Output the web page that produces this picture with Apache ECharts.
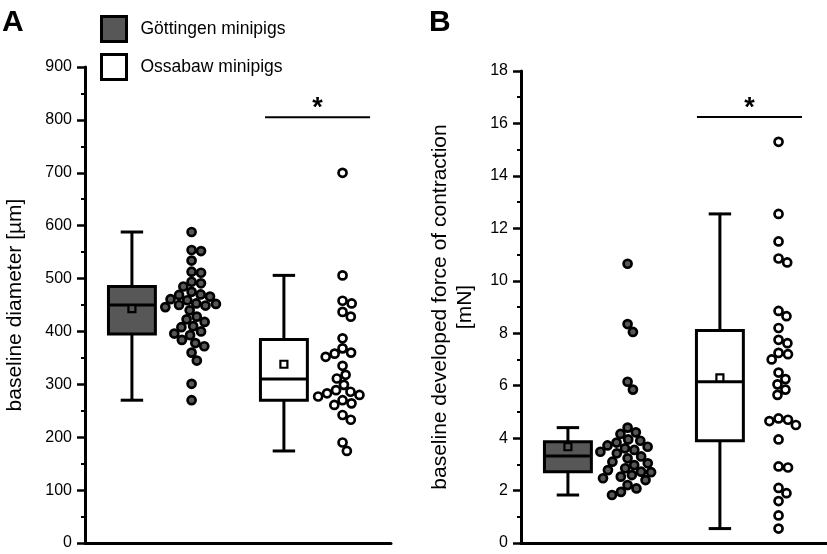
<!DOCTYPE html>
<html>
<head>
<meta charset="utf-8">
<script src="https://cdn.jsdelivr.net/npm/echarts@6/dist/echarts.min.js"></script>
<style>html,body{margin:0;padding:0;background:#fff}#c{width:827px;height:554px}</style>
</head>
<body>
<div id="c"></div>
<script>
// ---------- data ----------
const groups = ['Göttingen minipigs', 'Ossabaw minipigs'];
// Panel A: baseline diameter [µm]
const diamGottingen = [588, 554, 552, 534, 513, 511, 494, 491, 485, 475, 470, 469, 466, 461, 459, 453, 452, 450, 449, 446, 440, 428, 423, 418, 410, 408, 400, 396, 393, 384, 378, 372, 360, 345, 301, 270];
const diamOssabaw = [700, 506, 458, 453, 437, 428, 387, 368, 360, 358, 352, 335, 318, 311, 299, 289, 286, 283, 280, 277, 270, 264, 261, 242, 233, 190, 174];
// box stats: [lower whisker, Q1, median, Q3, upper whisker]
const diamBoxGottingen = [270, 395, 450, 485, 588];
const diamBoxOssabaw = [174, 270, 310, 385, 506];
const diamMeans = [443, 338];
// Panel B: baseline developed force of contraction [mN]
const forceGottingen = [10.65, 8.35, 8.05, 6.15, 5.85, 4.4, 4.22, 4.16, 3.95, 3.9, 3.83, 3.72, 3.67, 3.61, 3.55, 3.48, 3.42, 3.3, 3.23, 3.1, 3.04, 2.97, 2.85, 2.78, 2.72, 2.7, 2.59, 2.53, 2.47, 2.4, 2.21, 2.08, 1.95, 1.83];
const forceOssabaw = [15.3, 12.55, 11.5, 10.85, 10.7, 8.85, 8.65, 8.2, 7.75, 7.62, 7.25, 7.2, 7.0, 6.5, 6.25, 6.05, 5.85, 5.65, 4.75, 4.7, 4.65, 4.5, 3.95, 2.92, 2.88, 2.1, 1.9, 1.6, 1.05, 0.55];
const forceBoxGottingen = [1.83, 2.72, 3.32, 3.86, 4.4];
const forceBoxOssabaw = [0.55, 3.9, 6.15, 8.1, 12.55];
const forceMeans = [3.67, 6.3];
// significance bar levels
const sigLevels = [805, 16.25];
// axis ticks
const diamTicks = [0, 100, 200, 300, 400, 500, 600, 700, 800, 900];
const forceTicks = [0, 2, 4, 6, 8, 10, 12, 14, 16, 18];

// ---------- layout ----------
const FONT = "'Liberation Sans', Arial, Helvetica, sans-serif";
const DARK = '#575757';
const grids = [
  {left: 85, top: 67, width: 306, height: 476},
  {left: 521, top: 71, width: 306, height: 472}
];
const XMAX = 6;
const pos = {boxG: 0.92, ptsG: 2.09, boxO: 3.9, ptsO: 5.05};
const sigX = [[3.53, 5.59], [3.45, 5.51]];

// beeswarm offsets (pixel space) computed from data values
function swarm(vals, pxPerVal, d) {
  const placed = [];
  return vals.map(v => {
    const y = v * pxPerVal;
    const cands = [0];
    placed.forEach(p => {
      const dy = Math.abs(p.y - y);
      if (dy < d) { const dx = Math.sqrt(d * d - dy * dy); cands.push(p.x + dx, p.x - dx); }
    });
    cands.sort((a, b) => Math.abs(a) - Math.abs(b));
    const x = cands.find(c => placed.every(p => (p.x - c) ** 2 + (p.y - y) ** 2 >= d * d - 1e-6));
    placed.push({x, y});
    return x;
  });
}
function swarmData(vals, center, gi, ymax) {
  const pxY = grids[gi].height / ymax;
  const pxX = grids[gi].width / XMAX;
  const offs = swarm(vals, pxY, 9.5);
  return vals.map((v, i) => [center + offs[i] / pxX, v]);
}

function boxSeries(gi, x, stats, mean, fill) {
  return {
    type: 'custom', xAxisIndex: gi, yAxisIndex: gi, silent: true, z: 2,
    data: [[x].concat(stats).concat([mean])],
    renderItem: (params, api) => {
      const cx = api.value(0);
      const v = [1, 2, 3, 4, 5, 6].map(i => api.value(i));
      const hw = api.size([0.46, 0])[0];
      const cw = api.size([0.22, 0])[0];
      const p = val => api.coord([cx, val]);
      const pMin = p(v[0]), pQ1 = p(v[1]), pMed = p(v[2]), pQ3 = p(v[3]), pMax = p(v[4]), pMean = p(v[5]);
      const X = pMin[0];
      const st = {stroke: '#000', lineWidth: 3, fill: null};
      return {
        type: 'group', children: [
          {type: 'line', shape: {x1: X, y1: pMax[1], x2: X, y2: pQ3[1]}, style: st},
          {type: 'line', shape: {x1: X, y1: pQ1[1], x2: X, y2: pMin[1]}, style: st},
          {type: 'line', shape: {x1: X - cw, y1: pMax[1], x2: X + cw, y2: pMax[1]}, style: st},
          {type: 'line', shape: {x1: X - cw, y1: pMin[1], x2: X + cw, y2: pMin[1]}, style: st},
          {type: 'rect', shape: {x: X - hw, y: pQ3[1], width: 2 * hw, height: pQ1[1] - pQ3[1]}, style: {fill: fill, stroke: '#000', lineWidth: 3}},
          {type: 'line', shape: {x1: X - hw, y1: pMed[1], x2: X + hw, y2: pMed[1]}, style: st},
          {type: 'rect', shape: {x: X - 3.5, y: pMean[1] - 3.5, width: 7, height: 7}, style: {fill: fill, stroke: '#000', lineWidth: 2.2}}
        ]
      };
    }
  };
}
function sigSeries(gi) {
  return {
    type: 'custom', xAxisIndex: gi, yAxisIndex: gi, silent: true,
    data: [[sigX[gi][0], sigX[gi][1], sigLevels[gi]]],
    renderItem: (params, api) => {
      const a = api.coord([api.value(0), api.value(2)]);
      const b = api.coord([api.value(1), api.value(2)]);
      return {type: 'group', children: [
        {type: 'line', shape: {x1: a[0], y1: a[1], x2: b[0], y2: b[1]}, style: {stroke: '#000', lineWidth: 2}},
        {type: 'text', x: (a[0] + b[0]) / 2, y: a[1] + 5, style: {text: '*', fill: '#000', font: 'bold 27px ' + FONT, align: 'center', verticalAlign: 'bottom'}}
      ]};
    }
  };
}
function scatter(gi, name, data, fill) {
  return {
    type: 'scatter', name: name, xAxisIndex: gi, yAxisIndex: gi, z: 3,
    data: data, symbol: 'circle', symbolSize: 8,
    itemStyle: {color: fill, borderColor: '#000', borderWidth: 2.7, opacity: 1},
    emphasis: {disabled: true}
  };
}

function yAxis(gi, ticks, name, nameGap) {
  const step = ticks[1] - ticks[0];
  return {
    type: 'value', gridIndex: gi, min: ticks[0], max: ticks[ticks.length - 1], interval: step,
    name: name, nameLocation: 'middle', nameGap: nameGap,
    nameTextStyle: {fontFamily: FONT, fontSize: 21, color: '#000', lineHeight: 25},
    axisLine: {show: true, lineStyle: {color: '#000', width: 3}},
    axisTick: {show: true, inside: false, length: 8, lineStyle: {color: '#000', width: 2.5}},
    minorTick: {show: true, splitNumber: 2, length: 4, lineStyle: {color: '#000', width: 2}},
    axisLabel: {fontFamily: FONT, fontSize: 16, color: '#000', margin: 13},
    splitLine: {show: false}, minorSplitLine: {show: false}
  };
}
function xAxis(gi) {
  return {
    type: 'value', gridIndex: gi, min: 0, max: XMAX,
    axisLine: {show: true, onZero: false, lineStyle: {color: '#000', width: 3}},
    axisTick: {show: false}, axisLabel: {show: false}, splitLine: {show: false}
  };
}

const option = {
  animation: false,
  backgroundColor: '#fff',
  textStyle: {fontFamily: FONT},
  grid: grids.map(g => Object.assign({containLabel: false}, g)),
  xAxis: [xAxis(0), xAxis(1)],
  yAxis: [
    yAxis(0, diamTicks, 'baseline diameter [µm]', 57),
    yAxis(1, forceTicks, 'baseline developed force of contraction\n[mN]', 43)
  ],
  legend: {
    left: 100, top: 15, padding: 0, orient: 'vertical', icon: 'rect',
    itemWidth: 25, itemHeight: 25, itemGap: 10,
    selectedMode: false,
    textStyle: {fontFamily: FONT, fontSize: 17.5, color: '#000', padding: [0, 0, 0, 9]},
    data: [
      {name: groups[0], itemStyle: {color: DARK, borderColor: '#000', borderWidth: 3}},
      {name: groups[1], itemStyle: {color: '#fff', borderColor: '#000', borderWidth: 3}}
    ]
  },
  graphic: [
    {type: 'text', left: 2, top: 8, style: {text: 'A', font: 'bold 30px ' + FONT, fill: '#000'}},
    {type: 'text', left: 429, top: 8, style: {text: 'B', font: 'bold 30px ' + FONT, fill: '#000'}}
  ],
  series: [
    boxSeries(0, pos.boxG, diamBoxGottingen, diamMeans[0], DARK),
    boxSeries(0, pos.boxO, diamBoxOssabaw, diamMeans[1], '#fff'),
    scatter(0, groups[0], swarmData(diamGottingen, pos.ptsG, 0, 900), DARK),
    scatter(0, groups[1], swarmData(diamOssabaw, pos.ptsO, 0, 900), '#fff'),
    sigSeries(0),
    boxSeries(1, pos.boxG, forceBoxGottingen, forceMeans[0], DARK),
    boxSeries(1, pos.boxO, forceBoxOssabaw, forceMeans[1], '#fff'),
    scatter(1, groups[0], swarmData(forceGottingen, pos.ptsG, 1, 18), DARK),
    scatter(1, groups[1], swarmData(forceOssabaw, pos.ptsO, 1, 18), '#fff'),
    sigSeries(1)
  ]
};
const chart = echarts.init(document.getElementById('c'), null, {renderer: 'canvas'});
chart.setOption(option);
</script>
</body>
</html>
